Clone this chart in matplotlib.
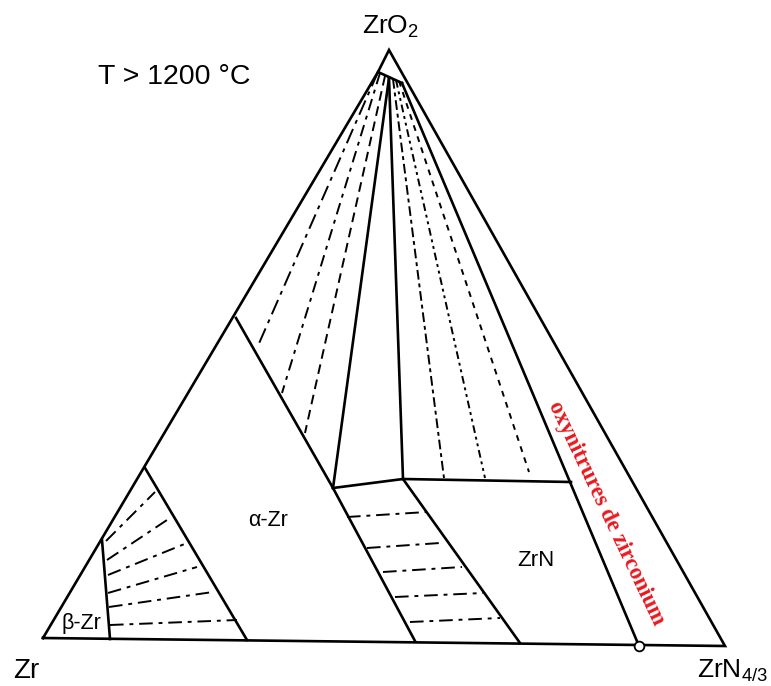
import matplotlib.pyplot as plt

plt.rcParams['font.family'] = ['Liberation Sans', 'DejaVu Sans']
plt.rcParams['mathtext.default'] = 'regular'

# key points of the Zr-ZrO2-ZrN4/3 section (pixel units, y down)
apex = (389, 50)
corner_zr = (43, 638)
corner_zrn = (725, 646)
tri_left = (378, 72)
tri_right = (402, 83)
tri_mid = (389, 78)
beta_top = (102, 540)
beta_bot = (110, 639)
ab_top = (145, 468)
ab_bot = (247, 640)
alpha_top = (236, 318)
alpha_knee = (333, 488)
alpha_bot = (415, 641)
zrn_knee = (403, 479)
zrn_bot = (520, 643)
zrn_right = (571, 482)
band_bot = (639, 646)

# solid phase boundaries
boundaries = [
    [corner_zr, tri_left, apex, corner_zrn, corner_zr],
    [tri_left, tri_right],
    [beta_top, beta_bot],
    [ab_top, ab_bot],
    [alpha_top, alpha_knee, alpha_bot],
    [alpha_knee, zrn_knee, zrn_right],
    [zrn_knee, zrn_bot],
    [tri_mid, alpha_knee],
    [tri_mid, zrn_knee],
    [tri_right, band_bot],
]

# tie lines: (start, end)
ties_zro2_alpha = [((378, 72), (257, 348)), ((380, 73), (282, 393)), ((385, 76), (305, 433))]
ties_zro2_zrn = [((393, 79), (444, 478)), ((396, 80), (485, 478)), ((399, 81), (529, 472))]
ties_beta_alpha = [((106, 541), (155, 492)), ((107, 560), (170, 518)), ((108, 575), (187, 543)),
                   ((108, 593), (197, 567)), ((109, 607), (213, 592)), ((110, 625), (237, 620))]
ties_alpha_zrn = [((347, 517), (427, 512)), ((367, 548), (440, 543)), ((383, 572), (462, 567)),
                  ((395, 597), (483, 593)), ((410, 622), (500, 618))]

fig = plt.figure(figsize=(7.71, 6.86), dpi=100)
ax = fig.add_axes([0, 0, 1, 1])
ax.set_xlim(0, 771)
ax.set_ylim(686, 0)
ax.axis('off')

for line in boundaries:
    xs, ys = zip(*line)
    ax.plot(xs, ys, color='black', lw=1.9, solid_joinstyle='miter')

styles_fan_left = [(0, (8, 3, 2, 3)), (0, (6, 3, 2, 3)), (0, (5, 3))]
for (p, q), ls in zip(ties_zro2_alpha, styles_fan_left):
    ax.plot([p[0], q[0]], [p[1], q[1]], color='black', lw=1.4, linestyle=ls)

styles_fan_right = [(0, (5, 2, 2, 2)), (0, (4, 2, 1.5, 2, 1.5, 2)), (0, (3, 3))]
for (p, q), ls in zip(ties_zro2_zrn, styles_fan_right):
    ax.plot([p[0], q[0]], [p[1], q[1]], color='black', lw=1.4, linestyle=ls)

for p, q in ties_beta_alpha + ties_alpha_zrn:
    ax.plot([p[0], q[0]], [p[1], q[1]], color='black', lw=1.4, linestyle=(0, (7, 3, 2, 3)))

ax.plot(band_bot[0], band_bot[1], 'o', ms=7, mfc='white', mec='black', mew=1.3)

# labels
ax.text(390, 34, 'ZrO$_2$', fontsize=19, ha='center', va='baseline')
ax.text(98, 84, 'T > 1200 °C', fontsize=20.5, ha='left', va='baseline')
ax.text(13, 678, 'Zr', fontsize=20, ha='left', va='baseline')
ax.text(697, 678, 'ZrN$_{4/3}$', fontsize=19, ha='left', va='baseline')
ax.text(81, 624, 'β-Zr', fontsize=15.5, ha='center', va='center')
ax.text(268, 520, 'α-Zr', fontsize=15.5, ha='center', va='center')
ax.text(536, 560, 'ZrN', fontsize=16, ha='center', va='center')
ax.text(606, 513, 'oxynitrures de zirconium', fontsize=16.5, color='#e8191e',
        family='Liberation Serif', fontweight='bold', rotation=-64.5,
        rotation_mode='anchor', ha='center', va='center')

fig.savefig('out.png', dpi=100, facecolor='white')
